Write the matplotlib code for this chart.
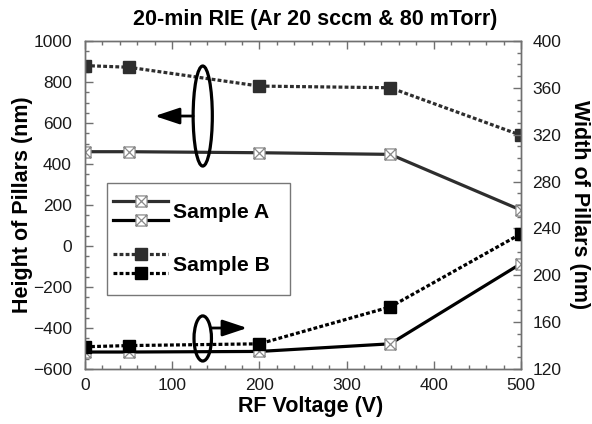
import numpy as np
import matplotlib
matplotlib.use('Agg')
import matplotlib.pyplot as plt
from matplotlib.path import Path
from matplotlib.patches import Ellipse
from matplotlib.ticker import MultipleLocator
from matplotlib.legend_handler import HandlerBase, HandlerLine2D
from matplotlib.transforms import Affine2D

plt.rcParams['font.family'] = ['Liberation Sans', 'DejaVu Sans']

# data
voltage = [0, 50, 200, 350, 500]
height_a = [460, 460, 455, 447, 175]
height_b = [880, 872, 780, 772, 540]
width_a = [134.5, 134.5, 135, 141.5, 210]
width_b = [139, 140, 141.5, 173, 235.5]

# box with a cross in it
box_x = Path([(-1, -1), (1, -1), (1, 1), (-1, 1), (-1, -1),
              (-1, -1), (1, 1), (-1, 1), (1, -1)],
             [Path.MOVETO, Path.LINETO, Path.LINETO, Path.LINETO, Path.CLOSEPOLY,
              Path.MOVETO, Path.LINETO, Path.MOVETO, Path.LINETO])


class HandlerStack(HandlerBase):
  '''draws several line handles on top of each other'''
  def __init__(self, gap, dx=0.0, extra=0.0):
    HandlerBase.__init__(self)
    self.gap = gap
    self.dx = dx
    self.extra = extra

  def create_artists(self, legend, orig_handle, xdescent, ydescent,
                     width, height, fontsize, trans):
    out = []
    n = len(orig_handle)
    for i, h in enumerate(orig_handle):
      dy = ((n - 1)/2.0 - i)*self.gap
      t = Affine2D().translate(self.dx, dy) + trans
      out += HandlerLine2D().create_artists(legend, h, xdescent, ydescent,
                                            width + self.extra, height,
                                            fontsize, t)
    return out


fig = plt.figure(figsize=(5.92, 4.24), dpi=100)
ax = fig.add_axes([0.1436, 0.1297, 0.7365, 0.7736])
ax2 = ax.twinx()

frame = '#707070'
lw = 2.3
hA, = ax.plot(voltage, height_a, '-', color='#2e2e2e', lw=lw, marker=box_x,
              ms=8, mfc='white', mec='#8a8a8a', mew=0.9)
hB, = ax.plot(voltage, height_b, color='#2e2e2e', lw=lw, ls=(0, (1.2, 0.7)),
              marker='s', ms=9, mfc='#2e2e2e', mec='#2e2e2e')
wA, = ax2.plot(voltage, width_a, '-', color='black', lw=lw, marker=box_x,
               ms=8, mfc='white', mec='#8a8a8a', mew=0.9)
wB, = ax2.plot(voltage, width_b, color='black', lw=lw, ls=(0, (1.2, 0.7)),
               marker='s', ms=9, mfc='black', mec='black')

ax.set_xlim(0, 500)
ax.set_ylim(-600, 1000)
ax2.set_ylim(120, 400)
ax.xaxis.set_major_locator(MultipleLocator(100))
ax.xaxis.set_minor_locator(MultipleLocator(20))
ax.yaxis.set_major_locator(MultipleLocator(200))
ax.yaxis.set_minor_locator(MultipleLocator(50))
ax2.yaxis.set_major_locator(MultipleLocator(40))
ax2.yaxis.set_minor_locator(MultipleLocator(10))

for a in (ax, ax2):
  for s in a.spines.values():
    s.set_color(frame)
    s.set_linewidth(1.0)
  a.tick_params(which='both', direction='in', color=frame, labelsize=12.5,
                labelcolor='#1a1a1a', width=1.0)
  a.tick_params(which='major', length=6)
  a.tick_params(which='minor', length=3)
ax.tick_params(axis='x', which='both', top=True, pad=6.5)
ax.tick_params(axis='y', which='both', right=False, pad=9.5)
ax2.tick_params(axis='y', which='both', pad=8)

ax.set_xlabel('RF Voltage (V)', fontsize=15.5, fontweight='bold', labelpad=2,
              x=0.518)
ax.set_ylabel('Height of Pillars (nm)', fontsize=15.5, fontweight='bold', labelpad=0)
ax2.set_ylabel('Width of Pillars (nm)', fontsize=15.5, fontweight='bold',
               rotation=270, labelpad=21)
ax.set_title('20-min RIE (Ar 20 sccm & 80 mTorr)', fontsize=15.5,
             fontweight='bold', pad=11.5, x=0.5275)

# ellipses with arrows pointing at the axis each group belongs to
arrow = dict(arrowstyle='-|>,head_length=1.5,head_width=0.5', lw=2,
             color='black', mutation_scale=10, shrinkA=0, shrinkB=0)
ax.add_patch(Ellipse((135, 634), 22, 488, fill=False, lw=2.3, color='black', zorder=5))
ax.annotate('', xy=(80, 634), xytext=(124, 634), arrowprops=arrow)
ax.add_patch(Ellipse((135, -451), 20, 220, fill=False, lw=2.3, color='black', zorder=5))
ax.annotate('', xy=(186, -400), xytext=(145, -400), arrowprops=arrow)

leg = ax2.legend([(hA, wA), (hB, wB)], ['Sample A', 'Sample B'],
                 handler_map={tuple: HandlerStack(14.0, dx=-10.0, extra=10.0)},
                 loc='upper left', bbox_to_anchor=(0.0505, 0.567),
                 borderaxespad=0, prop={'size': 15.3, 'weight': 'bold'},
                 numpoints=1, handlelength=1.93, handleheight=0.7,
                 handletextpad=0.24, labelspacing=1.6, borderpad=0.95,
                 fancybox=False, framealpha=1, edgecolor='#777777')
leg.get_frame().set_linewidth(1.0)

plt.savefig('out.png', dpi=100)
